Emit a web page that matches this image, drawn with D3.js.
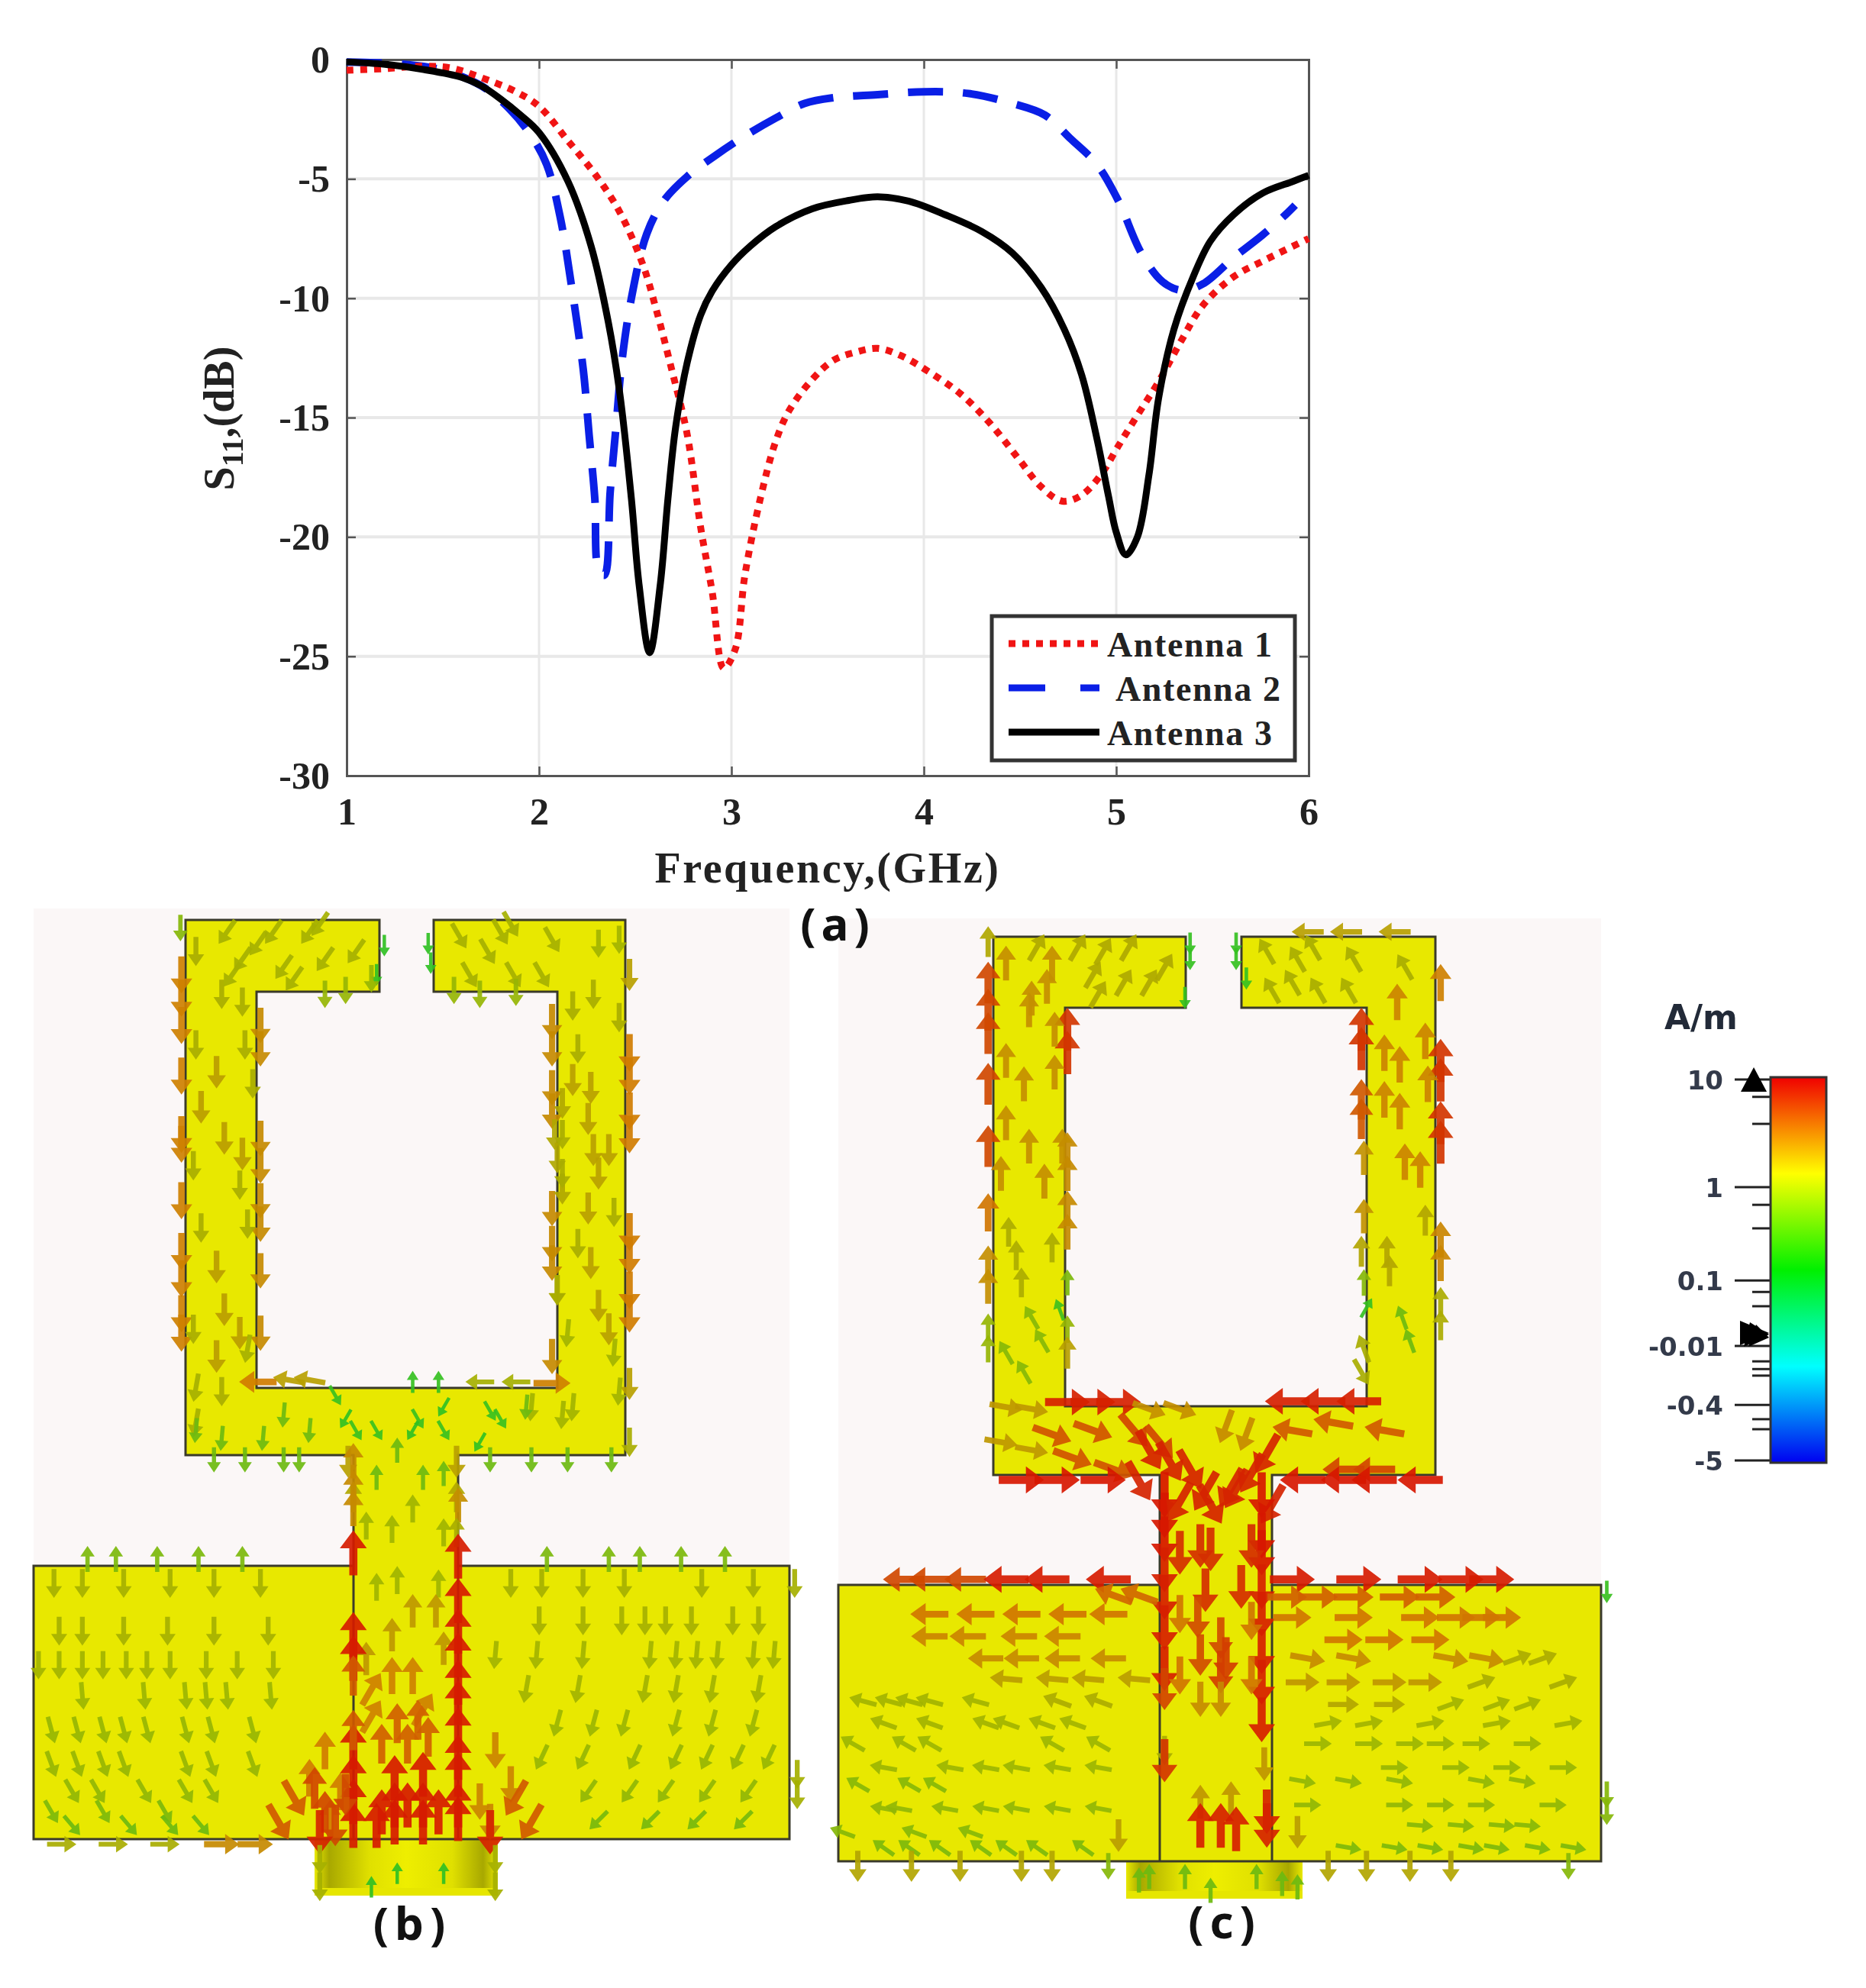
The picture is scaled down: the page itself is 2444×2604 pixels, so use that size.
<!DOCTYPE html>
<html lang="en">
<head>
<meta charset="utf-8">
<title>S11 and surface current</title>
<script src="https://d3js.org/d3.v7.min.js"></script>
<style>
body { margin:0; background:#fff; }
svg { display:block; filter:blur(0.7px); }
.serif { font-family:"Liberation Serif",serif; font-weight:bold; fill:#222; }
.cap { font-family:"Noto Sans",sans-serif; font-weight:bold; fill:#111; }
.bar { font-family:"DejaVu Sans",sans-serif; font-weight:bold; fill:#333a4a; }
</style>
</head>
<body>
<script>
// S11 curves
var freq1 = [1,1.2,1.4,1.54,1.69,1.88,2,2.15,2.3,2.42,2.54,2.61,2.69,2.77,2.84,2.9,2.96,3.02,3.07,3.15,3.23,3.3,3.42,3.53,3.65,3.76,3.88,4.03,4.19,4.34,4.49,4.61,4.72,4.82,4.92,5.01,5.11,5.22,5.34,5.45,5.61,5.76,6];
var s11_1 = [-0.45,-0.38,-0.28,-0.35,-0.73,-1.35,-1.96,-3.4,-4.9,-6.4,-8.6,-10.5,-13,-15.7,-19.6,-22.3,-25.5,-24.7,-21.6,-18.4,-16,-14.7,-13.4,-12.6,-12.25,-12.1,-12.4,-13.1,-14,-15.2,-16.7,-17.9,-18.5,-18.25,-17.4,-16.2,-14.9,-13.5,-11.75,-10.3,-9.1,-8.45,-7.5];
var freq2 = [1,1.3,1.5,1.7,1.85,1.96,2.04,2.11,2.17,2.23,2.26,2.29,2.31,2.34,2.37,2.4,2.43,2.48,2.56,2.65,2.77,2.92,3.07,3.23,3.38,3.53,3.76,4,4.23,4.46,4.63,4.76,4.9,5.01,5.13,5.24,5.34,5.45,5.61,5.76,5.88,5.93];
var s11_2 = [-0.1,-0.2,-0.45,-1.1,-2.1,-3.2,-4.4,-6.6,-9.55,-13,-15.7,-18.4,-21.4,-21.6,-18.1,-15.4,-12.7,-10,-7.3,-5.9,-4.9,-4,-3.2,-2.45,-1.84,-1.6,-1.47,-1.35,-1.42,-1.84,-2.33,-3.3,-4.4,-5.9,-8.1,-9.3,-9.67,-9.4,-8.3,-7.35,-6.5,-6.1];
var freq3 = [1,1.2,1.4,1.6,1.7,1.8,1.9,2,2.15,2.27,2.36,2.42,2.48,2.52,2.575,2.63,2.67,2.71,2.77,2.84,2.9,3,3.1,3.23,3.42,3.61,3.76,3.92,4.11,4.3,4.46,4.61,4.73,4.82,4.9,4.96,5,5.05,5.11,5.17,5.22,5.3,5.4,5.49,5.61,5.76,5.92,6];
var s11_3 = [-0.1,-0.2,-0.42,-0.75,-1.1,-1.65,-2.3,-3.06,-5.1,-7.8,-11,-14,-18.4,-22,-24.85,-22,-18.4,-15.4,-12.7,-10.7,-9.7,-8.6,-7.8,-7,-6.25,-5.9,-5.75,-5.93,-6.5,-7.2,-8.1,-9.55,-11.3,-13.2,-15.9,-18.3,-19.8,-20.75,-20,-17.4,-14.2,-11.3,-9.1,-7.6,-6.5,-5.6,-5.1,-4.85];
var seriesNames = ["Antenna 1","Antenna 2","Antenna 3"];
var xTicks = [1,2,3,4,5,6];
var yTicks = [0,-5,-10,-15,-20,-25,-30];

// colour bar
var barLabels = ["10","1","0.1","-0.01","-0.4","-5"];
var barMajor = [.006,.285,.527,.697,.850,.994];
var barMinor = [.051,.121,.331,.392,.557,.594,.737,.757,.774,.887,.913];

// current arrows: [direction deg (0 right, 90 down), strength 0-1, xs, ys], read on a 1568 grid per crop
// one of xs/ys can be a single number, then the arrows form a row or column
var arrowsBTop = [
 [90,.68,322,[190,250,320,450,600,625,770,900,970,1060,1110]],
 [90,.62,475,[320,380,610,680,770,830,950,1110]],
 [90,.62,1040,[310,380,480,540,790,880,930,1170]],
 [90,.7,1190,[390,450,540,600,850,910,1000,1060]],
 [90,.5,1190,[190,1240]],
 [90,.4,[350,400,440,350,445,460,345,435,450,360,345,400],[130,240,260,370,370,470,680,730,830,840,1100,1260]],
 [90,.52,[390,360,405,440,390,405,435,390],[440,530,610,650,940,1050,1110,1170]],
 [90,.45,[1060,1045,1050,1060,1050],[520,600,660,740,1000]],
 [100,.38,[350,450,350],[1250,1150,1340]],
 [90,.4,[1080,1120,1170,1090,1060,1060,1050,1160,1090],[270,240,300,380,600,700,1000,800,880]],
 [90,.5,[1080,1115,1110,1150,1120,1130,1110,1115,1130,1150],[460,480,560,640,640,700,790,930,1040,1100]],
 [95,.36,[1070,1160,1080,1170,1000,1060],[1110,1160,1300,1260,1300,1320]],
 [125,.38,[410,500,570,440,520,600,660,540,470,590,420],[80,80,80,150,170,150,130,200,110,60,190]],
 [60,.38,[860,940,1040,915,880,965,1020,960],[90,80,100,130,190,190,190,60]],
 [90,.36,[1130,1170],[110,100]],
 [90,.12,[715,800,805,700],[115,110,160,190]],
 [90,.33,[600,640,690,850,900,970],[240,230,200,230,240,235]],
 [90,.3,320,[70]],
 [180,.7,470,[1235]],
 [190,.5,[530,570],[1230,1230]],
 [270,.14,[770,820],[1235,1235]],
 [180,.38,[900,970],[1235,1235]],
 [0,.68,1040,[1238]],
 [60,.15,[620,660,700,780,830,920,940],[1270,1360,1360,1330,1360,1310,1330]],
 [120,.12,[640,770,900,830],[1330,1360,1390,1300]],
 [95,.25,[520,570,480,400,350,990],[1320,1360,1380,1380,1360,1300]],
 [270,.25,[740,700,790,830],[1410,1480,1480,1470]],
 [90,.25,[385,445,520,550,920,1000,1070,1155],1435],
 [90,.4,[1190],[1390]],
 [90,.5,[645,855],[1440,1440]],
 [270,.45,[655,855],[1530,1530]]
];
var arrowsBBottom = [
 [270,.62,655,[30,110,170]],[270,.6,858,[160]],[270,.4,855,[240]],
 [270,.35,[770,730,680,830,740,700,820],[170,230,220,240,380,400,390]],
 [270,.55,[770,815,730,680,830],[470,470,540,610,580]],
 [270,.68,[730,770],[660,660]],
 [300,.68,[690,790,690],[700,760,780]],
 [270,.97,655,[300,540,610,870,960,1030,1100]],
 [270,.8,655,[660,820]],
 [270,.97,858,[310,440,530,600,680,740,820,900,950,1040,1080]],
 [0,.72,755,790],
 [270,.78,[760,710,800,740,780],[860,860,840,800,790]],
 [270,.97,[735,790,735,760,790,735,790,710,820,700],[960,950,1040,1040,1040,1090,1090,1060,1060,1100]],
 [270,.7,[600,570,630,610],[880,960,1000,1080]],
 [90,.66,[930,960,900,920],[880,980,1030,1090]],
 [60,.8,[540,510],[1020,1090]],[120,.8,[970,1000],[1020,1090]],
 [90,.38,[75,130,210,300,385,475],390],[95,.5,570,390],
 [90,.38,[85,130,210,295,385,490],530],[100,.55,590,530],
 [90,.36,[45,85,130,170,215,255,300,370,430,500],630],[90,.52,540,630],
 [85,.34,[130,250,330,370,410,495],720],
 [75,.33,[70,120,170,210,255,330,380,460],820],[90,.55,540,820],
 [70,.33,[70,120,170,210,330,380,460],920],[90,.6,540,920],
 [60,.32,[110,160,250,330,380],1000],[65,.55,460,1000],[65,.72,535,1000],
 [60,.28,[70,170,290],1060],[50,.25,[110,220,300,360],1100],
 [270,.85,[580,600],[990,1060]],[90,.85,[640,620],[1010,1100]],[90,.95,[590,920],[1120,1120]],
 [90,.38,[960,1020,1100,1180,1330,1430,1510],390],
 [90,.38,[1015,1100,1175,1220,1260,1310,1390,1440],500],
 [95,.36,[930,1010,1100,1230,1280,1320,1360,1430,1470],600],
 [95,.5,920,700],[100,.36,[990,1090,1220,1280,1350,1440],700],
 [90,.6,970,800],[105,.34,[1050,1120,1180,1280,1350,1430],800],
 [90,.66,935,900],[115,.33,[1020,1100,1200,1280,1340,1400,1460],900],
 [90,.7,935,1000],[120,.5,1010,1000],[125,.32,[1110,1190,1260,1340,1420],1000],
 [125,.55,1040,1080],[135,.27,[1130,1230,1320,1410],1085],
 [90,.38,1515,[950,1010]],
 [270,.28,[140,195,275,355,440,1030,1150,1210,1290,1375],318],
 [0,.55,555,318],[0,.55,920,318],
 [0,.4,[90,190,290],1155],[0,.62,[400,465],1155],[0,.92,550,1155],[0,.55,620,1155],
 [180,.92,960,1155],[180,.72,1040,1155],[180,.6,1130,1155],[180,.48,1210,1155],[90,.35,1430,1155],
 [270,.12,[740,690,830],[1240,1280,1240]],
 [90,.38,[590,590,930,930],[1200,1280,1200,1280]]
];
var arrowsCTop = [
 [270,.85,305,[190,260,320,450,610]],[270,.72,305,[780]],[270,.6,305,[910,970]],[270,.45,305,[85]],[270,.33,305,[1075,1130]],
 [270,.9,460,[310,370]],[270,.62,460,[620,680,770,830]],[270,.28,460,[960]],[250,.16,445,[1030]],[270,.33,460,[1080]],[270,.5,460,[1140]],
 [270,.9,1035,[310,360]],[270,.8,1035,[490,540]],[270,.58,1040,[640,790]],[270,.46,1035,[880]],[270,.3,1040,[960]],[300,.14,1045,[1025]],
 [270,.68,1190,[190]],[270,.9,1190,[390,440,550,600]],[270,.65,1190,[850,910]],[270,.42,1190,[1010,1070]],
 [270,.6,[340,430,385,435,340,435,375,340,385,450,415,330,390,420],[140,140,260,310,390,420,450,550,610,610,700,680,230,200]],
 [270,.42,[345,360,430,370],[830,890,870,960]],
 [240,.3,[390,410,340,375],[1050,1110,1140,1190]],
 [300,.44,[480,530,580,510,570,650,520,400,620],[100,110,100,170,190,150,220,100,190]],
 [240,.4,[850,910,940,860,950,1020,1010,1120,900],[110,130,100,210,210,130,210,150,190]],
 [300,.4,660,60],[180,.5,[930,1005,1100],60],
 [0,.55,590,265],[180,.48,875,265],[0,.3,650,245],[0,.96,460,262],
 [90,.14,[700,700,690,790,790,810],[90,130,230,90,130,180]],
 [270,.66,[1105,1160,1080,1110,1080,1110,1165,1120,1150],[240,340,370,400,490,520,450,650,670]],
 [270,.46,[1160,1085,1090],[800,880,930]],[250,.25,[1115,1130],[1050,1110]],
 [60,.4,[1035],[1190]],[250,.4,[1040],[1130]],
 [0,.96,[460,510,560],1267],[20,.6,[620,680],1285],[180,.22,760,1265],[170,.55,820,1270],[180,.96,[890,960,1030],1265],
 [10,.55,[340,390,330,390],[1280,1285,1370,1390]],
 [20,.82,[470,550,510,430],[1410,1440,1340,1350]],
 [50,.86,[590,640],[1340,1370]],[70,.92,690,1390],[70,.98,650,1450],
 [60,.95,[620,660,700,600,740],[1390,1420,1440,1470,1530]],
 [110,.62,[810,770],[1350,1330]],[120,.7,840,1310],
 [120,.95,[850,820,790,860],[1400,1450,1490,1530]],
 [190,.8,[900,980,1080],[1340,1320,1340]],[180,.86,[1000,1060],[1440,1440]],[130,.95,880,1420],
 [100,.98,750,1490],[190,.45,1150,1270],[180,.5,1170,1370],[90,.56,1190,1420],
 [0,.98,[370,440,530],1467],[180,.98,[920,1000,1060,1150],1467]
];
var arrowsCBottom = [
 [90,.98,650,[130,190,260]],[90,.96,650,[350,430,520,640]],[90,.86,650,[700]],[90,.4,650,[880]],[90,.9,650,[910]],
 [90,.98,840,[130,250,300]],[90,.96,840,[400,480,590,680,790]],[90,.56,845,[920]],[90,.95,850,[1060,1100]],
 [90,.92,[720,740,820,730,680,800],[280,290,280,410,300,400]],[90,.84,[715,760,720],[490,550,600]],[90,.88,[770,760],[610,650]],
 [90,.62,[720,760],[730,730]],[90,.72,[680,680,820,820],[480,660,500,660]],
 [120,.95,[780,730,680],[110,120,150]],
 [0,.55,745,860],
 [270,.15,750,930],[270,.56,[720,780],[1030,1020]],[270,.96,[720,760,790],[1100,1100,1110]],
 [180,.85,[140,190,260],378],[180,.97,[340,420,540],378],[0,.97,[900,1030,1150,1230,1290],378],[0,.78,1365,378],
 [200,.76,[550,600],425],[180,.72,[190,280,370,460,540],480],[180,.66,[190,265,365,450],545],
 [190,.45,190,610],[180,.62,[300,370,450,540],610],[185,.52,[340,430,500,590],670],[190,.4,240,670],
 [195,.36,[60,110,150,190,280],735],[200,.42,[440,520],735],
 [200,.36,[100,190,300,340,410,470],800],[210,.34,[40,140,190,430,520],860],
 [190,.34,[100,230,300,360,440,520],930],[210,.3,[50,150,200],980],
 [190,.32,[100,130,220,300,360,440,520],1050],[200,.3,[20,160,270],1120],[215,.28,[100,150,210,290,340,400,490],1165],
 [0,.78,[890,950,1020,1110,1180],430],[30,.42,1330,430],
 [0,.72,[900,1020,1150,1220,1270,1310],490],[0,.72,[1000,1080,1170],555],
 [10,.62,[930,1020,1210,1280],610],[340,.42,[1340,1390],610],
 [0,.56,[920,1000,1090,1160],680],[340,.4,[1270,1430],680],
 [0,.46,[1000,1090],745],[340,.36,[1210,1300,1360],745],
 [350,.36,[970,1050,1170,1300,1440],800],[0,.34,[950,1050,1130,1190,1260,1360],860],
 [0,.33,[1100,1220,1320,1430],930],[10,.32,[920,1010,1110,1270,1350],970],
 [0,.32,[930,1110,1190,1270,1410],1040],[5,.3,[1150,1230,1310,1360],1100],
 [10,.28,[1010,1100,1170,1250,1300,1380,1450],1165],
 [90,.46,[50,155,250,370,430,970,1045,1130,1210],1220],[90,.3,[540,1440],1220],
 [90,.15,1515,[415]],[90,.3,1515,[1010,1060]],
 [90,.52,[560,910],[1130,1120]],
 [270,.25,[600,620,690,740,830,880,910],[1260,1250,1250,1290,1250,1270,1280]]
];

var width = 2444, height = 2604;
var svg = d3.select("body").append("svg").attr("width", width).attr("height", height);

// ---- chart (a)
var x = d3.scaleLinear().domain([1,6]).range([454,1714]);
var y = d3.scaleLinear().domain([-30,0]).range([1016,78]);

var g = svg.append("g");
g.selectAll(".gx").data(xTicks.slice(1,-1)).enter().append("line")
  .attr("x1", x).attr("x2", x).attr("y1", y(0)).attr("y2", y(-30))
  .attr("stroke", "#e8e8e8").attr("stroke-width", 3);
g.selectAll(".gy").data(yTicks.slice(1,-1)).enter().append("line")
  .attr("y1", y).attr("y2", y).attr("x1", x(1)).attr("x2", x(6))
  .attr("stroke", "#e8e8e8").attr("stroke-width", 4);

var axB = g.append("g").attr("transform", "translate(0,1016)")
  .call(d3.axisBottom(x).tickValues(xTicks).tickSize(-12).tickPadding(34).tickFormat(String));
var axL = g.append("g").attr("transform", "translate(454,0)")
  .call(d3.axisLeft(y).tickValues(yTicks).tickSize(-12).tickPadding(22).tickFormat(String));
g.append("g").attr("transform", "translate(0,78)")
  .call(d3.axisTop(x).tickValues(xTicks).tickSize(-12).tickFormat(""));
g.append("g").attr("transform", "translate(1714,0)")
  .call(d3.axisRight(y).tickValues(yTicks).tickSize(-12).tickFormat(""));
g.selectAll(".domain").attr("stroke", "#555").attr("stroke-width", 3);
g.selectAll(".tick line").attr("stroke", "#555").attr("stroke-width", 2.5);
[axB, axL].forEach(function(a) {
  a.selectAll("text").attr("class", "serif").style("font-size", "50px").attr("fill", "#222");
});
axL.selectAll("text").attr("dy", "0.33em");
axB.selectAll("text").attr("dy", "0.6em");

var line = d3.line().x(function(d){ return x(d[0]); }).y(function(d){ return y(d[1]); }).curve(d3.curveCatmullRom.alpha(0.5));
var plot = g.append("g").attr("fill", "none").attr("stroke-linejoin", "round");
plot.append("path").attr("d", line(d3.zip(freq2, s11_2))).attr("stroke", "#0a1fe6").attr("stroke-width", 10).attr("stroke-dasharray", "46 26");
plot.append("path").attr("d", line(d3.zip(freq1, s11_1))).attr("stroke", "#f01414").attr("stroke-width", 9).attr("stroke-dasharray", "9 9");
plot.append("path").attr("d", line(d3.zip(freq3, s11_3))).attr("stroke", "#000").attr("stroke-width", 9);

g.append("text").attr("class", "serif").attr("x", 1084).attr("y", 1156).attr("text-anchor", "middle")
  .style("font-size", "56px").style("letter-spacing", "2.6px").text("Frequency,(GHz)");
var yl = g.append("text").attr("class", "serif").attr("transform", "translate(306,548) rotate(-90)")
  .attr("text-anchor", "middle").style("font-size", "56px");
yl.append("tspan").text("S");
yl.append("tspan").attr("dy", 12).style("font-size", "40px").text("11");
yl.append("tspan").attr("dy", -12).text(",(dB)");

// legend
var leg = g.append("g");
leg.append("rect").attr("x", 1299).attr("y", 807).attr("width", 397).attr("height", 189)
  .attr("fill", "#fff").attr("stroke", "#333").attr("stroke-width", 5);
var legStyle = [["#f01414","9 9",1450],["#0a1fe6","48 46",1461],["#000","none",1450]];
seriesNames.forEach(function(name, i) {
  var ly = 843 + i*58;
  leg.append("line").attr("x1", 1321).attr("x2", 1440).attr("y1", ly).attr("y2", ly)
    .attr("stroke", legStyle[i][0]).attr("stroke-width", 9).attr("stroke-dasharray", legStyle[i][1]);
  leg.append("text").attr("class", "serif").attr("x", legStyle[i][2]).attr("y", ly + 17)
    .style("font-size", "46px").style("letter-spacing", "1.6px").text(name);
});

// ---- current plots
var strengthColor = d3.scaleLinear()
  .domain([0,.15,.35,.5,.7,.85,1])
  .range(["#10c030","#38c020","#a0b400","#b8a000","#d07c00","#d04800","#d81000"]);
var lenScale = d3.scaleLinear().domain([0,1]).range([24,60]);

function arrowPath(m) {
  var L = lenScale(m), hw = 6 + 12*m, hl = 10 + 14*m, sw = 1.8 + 3.6*m;
  return "M" + (-L/2) + "," + (-sw) + "L" + (L/2-hl) + "," + (-sw) + "L" + (L/2-hl) + "," + (-hw) +
    "L" + (L/2) + ",0L" + (L/2-hl) + "," + hw + "L" + (L/2-hl) + "," + sw + "L" + (-L/2) + "," + sw + "Z";
}

function expand(table) {
  var out = [];
  table.forEach(function(r) {
    var xs = r[2], ys = r[3];
    var n = Array.isArray(xs) ? xs.length : ys.length;
    for (var i = 0; i < n; i++) {
      out.push({ a:r[0], m:r[1], x:Array.isArray(xs) ? xs[i] : xs, y:Array.isArray(ys) ? ys[i] : ys });
    }
  });
  return out;
}

function drawArrows(parent, table, sx, sy) {
  parent.append("g").selectAll("path").data(expand(table)).enter().append("path")
    .attr("d", function(d){ return arrowPath(d.m); })
    .attr("fill", function(d){ return strengthColor(d.m); })
    .attr("fill-opacity", 0.92)
    .attr("transform", function(d){ return "translate(" + sx(d.x) + "," + sy(d.y) + ") rotate(" + d.a + ")"; });
}

function drawPanel(p) {
  var G = svg.append("g");
  G.append("rect").attr("x", p.bg[0]).attr("y", p.bg[1]).attr("width", p.bg[2]-p.bg[0]).attr("height", p.bg[3]-p.bg[1]).attr("fill", "#fbf7f7");

  var ring = [[p.ring[0],p.ring[2]],[p.gap[0],p.ring[2]],[p.gap[0],p.inner[2]],[p.inner[0],p.inner[2]],[p.inner[0],p.inner[3]],
    [p.inner[1],p.inner[3]],[p.inner[1],p.inner[2]],[p.gap[1],p.inner[2]],[p.gap[1],p.ring[2]],[p.ring[1],p.ring[2]],
    [p.ring[1],p.ring[3]],[p.feed[1],p.ring[3]],[p.feed[1],p.ground[2]],[p.ground[1],p.ground[2]],[p.ground[1],p.ground[3]],
    [p.ground[0],p.ground[3]],[p.ground[0],p.ground[2]],[p.feed[0],p.ground[2]],[p.feed[0],p.ring[3]],[p.ring[0],p.ring[3]]];
  // connector, shaded like a cylinder
  G.append("rect").attr("x", p.conn[0]).attr("y", p.ground[3]).attr("width", p.conn[1]-p.conn[0]).attr("height", p.conn[2]-p.ground[3])
    .attr("fill", "url(#cyl)");
  G.append("rect").attr("x", p.conn[0]).attr("y", p.conn[2]-10).attr("width", p.conn[1]-p.conn[0]).attr("height", 10).attr("fill", "#e6e600");
  G.append("path").attr("d", "M" + ring.join("L") + "Z").attr("fill", "#e8e800").attr("stroke", "#3a3a2a").attr("stroke-width", 3);
  // feed edges over the ground
  [p.feed[0], p.feed[1]].forEach(function(fx) {
    G.append("line").attr("x1", fx).attr("x2", fx).attr("y1", p.ground[2]).attr("y2", p.ground[3]).attr("stroke", "#3a3a2a").attr("stroke-width", 3);
  });
  drawArrows(G, p.top, p.sx, p.syTop);
  drawArrows(G, p.bottom, p.sx, p.syBottom);
}

var defs = svg.append("defs");
var cyl = defs.append("linearGradient").attr("id", "cyl");
[[0,"#e8e800"],[.08,"#a8a800"],[.3,"#e0e000"],[.5,"#eeee00"],[.75,"#e0e000"],[.92,"#a8a800"],[1,"#e8e800"]].forEach(function(s) {
  cyl.append("stop").attr("offset", s[0]).attr("stop-color", s[1]);
});
var grad = defs.append("linearGradient").attr("id", "barGrad").attr("x1", 0).attr("x2", 0).attr("y1", 0).attr("y2", 1);
[[0,"#f00000"],[.25,"#ffff00"],[.5,"#00f000"],[.75,"#00ffff"],[1,"#0000f0"]].forEach(function(s) {
  grad.append("stop").attr("offset", s[0]).attr("stop-color", s[1]);
});

drawPanel({
  bg:[44,1190,1034,2409], ring:[243,819,1205,1906], gap:[497,568], inner:[336,730,1299,1818],
  feed:[463,600], ground:[44,1034,2051,2409], conn:[412,652,2483],
  top:arrowsBTop, bottom:arrowsBBottom,
  sx:d3.scaleLinear().domain([0,1568]).range([20,1080]),
  syTop:d3.scaleLinear().domain([0,1568]).range([1180,1980]),
  syBottom:d3.scaleLinear().domain([0,1568]).range([1900,2600])
});
drawPanel({
  bg:[1098,1203,2097,2438], ring:[1301,1880,1227,1932], gap:[1553,1626], inner:[1395,1790,1320,1842],
  feed:[1519,1666], ground:[1098,2097,2076,2438], conn:[1475,1706,2487],
  top:arrowsCTop, bottom:arrowsCBottom,
  sx:d3.scaleLinear().domain([0,1568]).range([1090,2140]),
  syTop:d3.scaleLinear().domain([0,1568]).range([1190,1990]),
  syBottom:d3.scaleLinear().domain([0,1568]).range([1900,2600])
});

// panel captions go last, (a) sits on top of the panel backgrounds
svg.append("text").attr("class", "cap").attr("x", 1097).attr("y", 1232).attr("text-anchor", "middle")
  .style("font-size", "60px").style("letter-spacing", "7px").text("(a)");
svg.append("text").attr("class", "cap").attr("x", 540).attr("y", 2541).attr("text-anchor", "middle")
  .style("font-size", "60px").style("letter-spacing", "8px").text("(b)");
svg.append("text").attr("class", "cap").attr("x", 1604).attr("y", 2539).attr("text-anchor", "middle")
  .style("font-size", "60px").style("letter-spacing", "8px").text("(c)");

// ---- colour bar
var barY = d3.scaleLinear().domain([0,1]).range([1411,1916]);
var cb = svg.append("g");
cb.selectAll(".maj").data(barMajor).enter().append("line")
  .attr("x1", 2272).attr("x2", 2318).attr("y1", barY).attr("y2", barY).attr("stroke", "#222").attr("stroke-width", 3);
cb.selectAll(".min").data(barMinor).enter().append("line")
  .attr("x1", 2295).attr("x2", 2318).attr("y1", barY).attr("y2", barY).attr("stroke", "#222").attr("stroke-width", 3);
cb.selectAll(".lab").data(barLabels).enter().append("text").attr("class", "bar")
  .attr("x", 2257).attr("y", function(d,i){ return barY(barMajor[i]) + 13; }).attr("text-anchor", "end")
  .style("font-size", "34px").text(function(d){ return d; });
cb.append("rect").attr("x", 2319).attr("y", 1411).attr("width", 73).attr("height", 505)
  .attr("fill", "url(#barGrad)").attr("stroke", "#333").attr("stroke-width", 3);
cb.append("text").attr("class", "bar").attr("x", 2228).attr("y", 1348).attr("text-anchor", "middle")
  .style("font-size", "44px").style("fill", "#222a38").text("A/m");
cb.append("path").attr("d", "M2297,1398L2314,1430L2280,1430Z").attr("fill", "#000");
cb.append("path").attr("d", "M2279,1730L2317,1746L2279,1762ZM2292,1732L2317,1748L2284,1764ZM2300,1735L2317,1752L2290,1764Z").attr("fill", "#000");
</script>
</body>
</html>
